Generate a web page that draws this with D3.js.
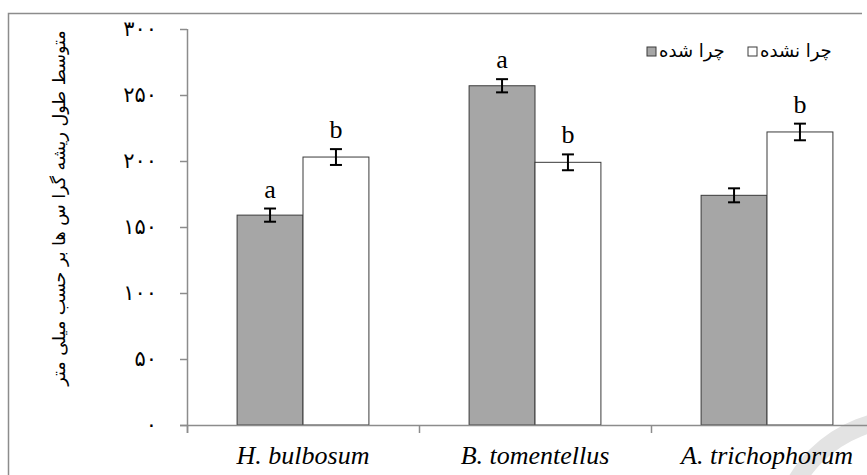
<!DOCTYPE html>
<html>
<head>
<meta charset="utf-8">
<script src="https://cdn.jsdelivr.net/npm/d3@7"></script>
<style>
  body { margin: 0; background: #fff; }
  svg { display: block; }
</style>
</head>
<body>
<div id="chart"></div>
<script>
// data
var species = ["H. bulbosum", "B. tomentellus", "A. trichophorum"];
var seriesNames = ["چرا شده", "چرا نشده"];
var grazed = [159, 257, 174];
var ungrazed = [203, 199, 222];
var grazedErr = [5, 5, 5.3];
var ungrazedErr = [6, 6, 6.3];
var grazedLetters = ["a", "a", ""];
var ungrazedLetters = ["b", "b", "b"];
var yTicks = [0, 50, 100, 150, 200, 250, 300];
var yTitle = "متوسط طول ریشه گرا س ها بر حسب میلی متر";

var W = 867, H = 475;
var margin = {top: 29, left: 187, bottom: 50};
var baseY = H - margin.bottom;

var faDigits = "۰۱۲۳۴۵۶۷۸۹";
function toFa(n) {
    return String(n).replace(/[0-9]/g, function(c) { return faDigits[+c]; });
}

var svg = d3.select("#chart").append("svg")
    .attr("width", W)
    .attr("height", H);

// outer chart frame (cropped on right and bottom)
svg.append("path")
    .attr("d", "M8.5," + H + "V13.5H862")
    .attr("fill", "none")
    .attr("stroke", "#8c8c8c")
    .attr("stroke-width", 1.5);

// faint watermark arc in the corner
svg.append("circle")
    .attr("cx", 905).attr("cy", 545).attr("r", 126)
    .attr("fill", "none")
    .attr("stroke", "#e3e3e3")
    .attr("stroke-width", 18);

var x = d3.scaleBand()
    .domain(species)
    .range([margin.left, margin.left + 232 * species.length])
    .padding(0);

var xs = d3.scaleBand()
    .domain(seriesNames)
    .range([0, x.bandwidth()])
    .paddingInner(0)
    .paddingOuter(0.76);

var y = d3.scaleLinear()
    .domain([0, 300])
    .range([baseY, margin.top]);

var rows = [];
species.forEach(function(s, i) {
    rows.push({sp: s, ser: seriesNames[0], v: grazed[i], e: grazedErr[i], l: grazedLetters[i], fill: "#a6a6a6"});
    rows.push({sp: s, ser: seriesNames[1], v: ungrazed[i], e: ungrazedErr[i], l: ungrazedLetters[i], fill: "#ffffff"});
});

// bars
svg.selectAll("rect.bar")
    .data(rows)
    .enter()
    .append("rect")
    .attr("class", "bar")
    .attr("x", function(d) { return x(d.sp) + xs(d.ser); })
    .attr("y", function(d) { return y(d.v); })
    .attr("width", xs.bandwidth())
    .attr("height", function(d) { return baseY - y(d.v); })
    .attr("fill", function(d) { return d.fill; })
    .attr("stroke", "#3a3a3a")
    .attr("stroke-width", 1);

// error bars
var eg = svg.selectAll("g.err")
    .data(rows)
    .enter()
    .append("g")
    .attr("class", "err")
    .attr("stroke", "#000")
    .attr("stroke-width", 2);
function cx(d) { return x(d.sp) + xs(d.ser) + xs.bandwidth() / 2; }
eg.append("line")
    .attr("x1", cx).attr("x2", cx)
    .attr("y1", function(d) { return y(d.v + d.e); })
    .attr("y2", function(d) { return y(d.v - d.e); });
eg.append("line")
    .attr("x1", function(d) { return cx(d) - 6; })
    .attr("x2", function(d) { return cx(d) + 6; })
    .attr("y1", function(d) { return y(d.v + d.e); })
    .attr("y2", function(d) { return y(d.v + d.e); });
eg.append("line")
    .attr("x1", function(d) { return cx(d) - 6; })
    .attr("x2", function(d) { return cx(d) + 6; })
    .attr("y1", function(d) { return y(d.v - d.e); })
    .attr("y2", function(d) { return y(d.v - d.e); });

// significance letters
svg.selectAll("text.letter")
    .data(rows.filter(function(d) { return d.l; }))
    .enter()
    .append("text")
    .attr("class", "letter")
    .attr("x", cx)
    .attr("y", function(d) { return y(d.v + d.e) - 11; })
    .attr("text-anchor", "middle")
    .style("font-family", "'Liberation Serif', 'Times New Roman', serif")
    .style("font-size", "26px")
    .text(function(d) { return d.l; });

// y axis
var yAxis = svg.append("g")
    .attr("transform", "translate(" + margin.left + ",0)")
    .call(d3.axisLeft(y).tickValues(yTicks).tickSize(7).tickPadding(23).tickFormat(toFa));
yAxis.select(".domain").attr("stroke", "#8c8c8c").attr("stroke-width", 1.5)
    .attr("d", "M0.5," + margin.top + "V" + (baseY + 8));
yAxis.selectAll(".tick line").attr("stroke", "#8c8c8c").attr("stroke-width", 1.5);
yAxis.selectAll(".tick text")
    .style("font-family", "'DejaVu Sans', sans-serif")
    .style("font-size", "21px")
    .attr("fill", "#000");

// x axis
var xAxis = svg.append("g")
    .attr("transform", "translate(0," + baseY + ")")
    .call(d3.axisBottom(x).tickSize(0).tickPadding(21));
xAxis.select(".domain").attr("stroke", "#8c8c8c").attr("stroke-width", 1.5)
    .attr("d", "M" + (margin.left - 7) + ",0.5H" + W);
xAxis.selectAll(".tick text")
    .style("font-family", "'Liberation Serif', 'Times New Roman', serif")
    .style("font-style", "italic")
    .style("font-size", "26px")
    .attr("fill", "#000");
// category boundary ticks
xAxis.selectAll("line.bound")
    .data(species)
    .enter()
    .append("line")
    .attr("class", "bound")
    .attr("x1", function(d) { return x(d) + 0.5; })
    .attr("x2", function(d) { return x(d) + 0.5; })
    .attr("y1", 0).attr("y2", 8)
    .attr("stroke", "#8c8c8c")
    .attr("stroke-width", 1.5);

// y title
svg.append("text")
    .attr("transform", "translate(65," + ((margin.top + baseY) / 2 - 19) + ") rotate(-90)")
    .attr("text-anchor", "middle")
    .attr("direction", "rtl")
    .style("font-family", "'DejaVu Sans', sans-serif")
    .style("font-size", "17.5px")
    .text(yTitle);

// legend
var legX = [647, 748];
var leg = svg.selectAll("g.leg")
    .data(seriesNames)
    .enter()
    .append("g")
    .attr("class", "leg")
    .attr("transform", function(d, i) { return "translate(" + legX[i] + ",47)"; });
leg.append("rect")
    .attr("width", 9).attr("height", 9)
    .attr("fill", function(d, i) { return i === 0 ? "#a6a6a6" : "#fff"; })
    .attr("stroke", "#3a3a3a")
    .attr("stroke-width", 1);
leg.append("text")
    .attr("x", 12)
    .attr("y", 10)
    .attr("text-anchor", "start")
    .style("font-family", "'DejaVu Sans', sans-serif")
    .style("font-size", "18px")
    .text(function(d) { return d; });
</script>
</body>
</html>
